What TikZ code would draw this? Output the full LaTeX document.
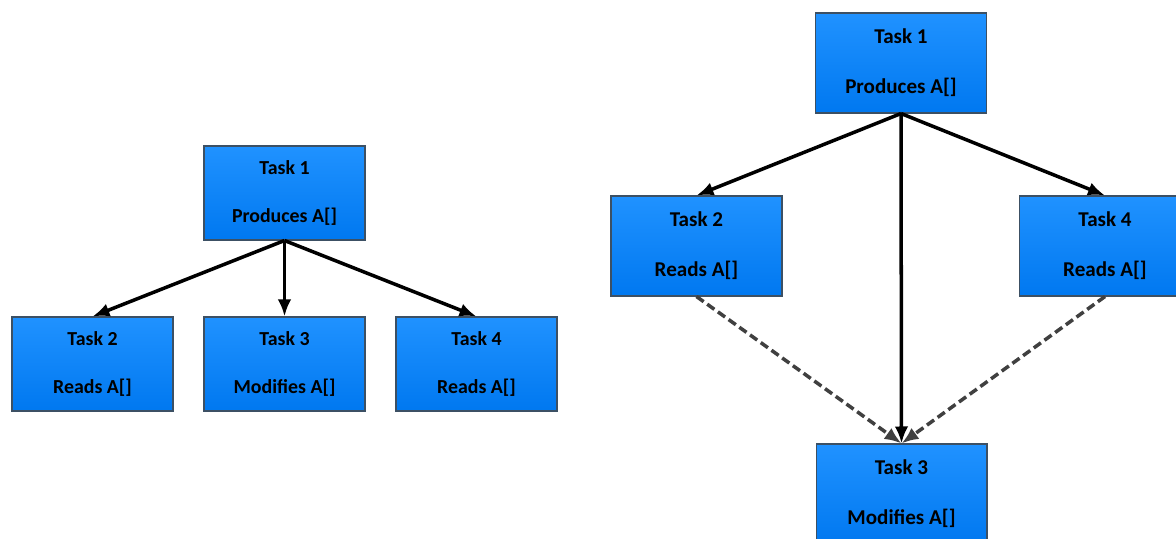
\documentclass[tikz,border=0pt]{standalone}
\usepackage{fontspec}
\setmainfont{Carlito}
\usetikzlibrary{arrows.meta}

\definecolor{tasktop}{RGB}{32,146,255}
\definecolor{taskbot}{RGB}{0,120,240}
\definecolor{taskline}{RGB}{60,80,100}
\definecolor{depline}{RGB}{64,64,64}

\tikzset{
	task/.style={rectangle, draw=taskline, line width=0.6pt, top color=tasktop, bottom color=taskbot, inner sep=0pt, align=center, minimum width=3.22cm, minimum height=1.88cm, font=\bfseries\fontsize{11.3}{27}\selectfont},
	bigtask/.style={task, minimum width=3.42cm, minimum height=2cm, font=\bfseries\fontsize{12}{28.5}\selectfont},
	flow/.style={-{Latex[length=0.34cm, width=0.27cm]}, line width=2pt},
	dep/.style={flow, depline, dash pattern=on 5pt off 2.5pt}
}

\begin{document}
\begin{tikzpicture}[x=0.02cm, y=-0.02cm]
	
	\useasboundingbox (0, 0) rectangle (1176, 538);
	
	% left: every task hangs on task 1
	\node (l1) [task] at (284.5, 193) {Task 1\\Produces A[]};
	
	\foreach \i/\x/\n in {2/92.5/Reads A[], 3/284.5/Modifies A[], 4/476.5/Reads A[]} {
		\node (l\i) [task] at (\x, 364) {Task \i\\\n};
		\draw [flow] (l1.south) -- (l\i.north);
	}
	
	% right: task 3 also waits for the readers
	\node (r1) [bigtask] at (901, 63) {Task 1\\Produces A[]};
	\node (r2) [bigtask] at (696.5, 246) {Task 2\\Reads A[]};
	\node (r4) [bigtask] at (1105, 246) {Task 4\\Reads A[]};
	\node (r3) [bigtask] at (901.5, 494) {Task 3\\Modifies A[]};
	
	\foreach \i in {2, 3, 4}
		\draw [flow] (r1.south) -- (r\i.north);
	\foreach \i in {2, 4}
		\draw [dep] (r\i.south) -- (r3.north);
	
\end{tikzpicture}
\end{document}
